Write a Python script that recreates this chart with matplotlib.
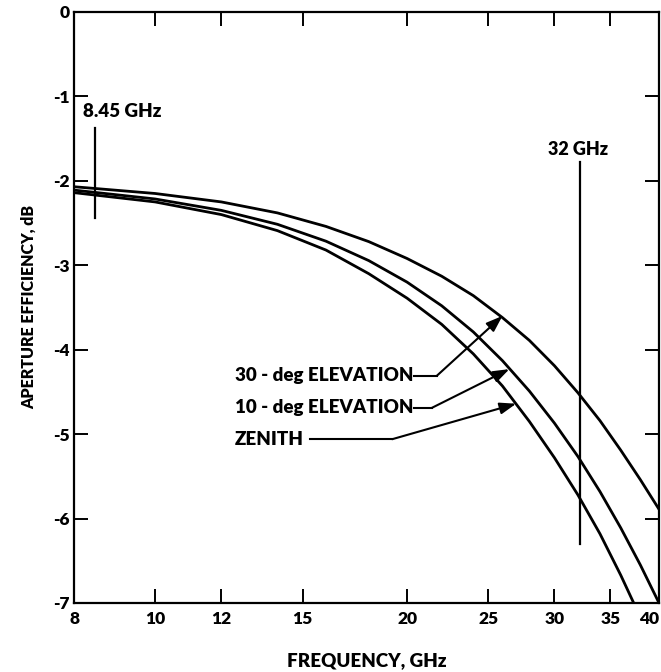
import matplotlib
matplotlib.use('Agg')

from matplotlib import pyplot as plt
from matplotlib import ticker

plt.rcParams['font.family'] = ['Lato', 'DejaVu Sans']
W = 'heavy'

# curves (frequency GHz, aperture efficiency dB)
freq30 = [8, 10, 12, 14, 16, 18, 20, 22, 24, 26, 28, 30, 32, 34, 36, 38, 40]
eff30 = [-2.07, -2.15, -2.25, -2.38, -2.54, -2.72, -2.92, -3.13, -3.36, -3.62,
	-3.89, -4.19, -4.51, -4.84, -5.19, -5.54, -5.89]

freq10 = [8, 10, 12, 14, 16, 18, 20, 22, 24, 26, 28, 30, 32, 34, 36, 38, 40]
eff10 = [-2.11, -2.215, -2.35, -2.515, -2.715, -2.945, -3.20, -3.48, -3.79, -4.13,
	-4.49, -4.87, -5.265, -5.68, -6.11, -6.55, -7.0]

freqZen = [8, 10, 12, 14, 16, 18, 20, 22, 24, 26, 28, 30, 32, 34, 36, 38]
effZen = [-2.14, -2.25, -2.40, -2.59, -2.82, -3.10, -3.39, -3.70, -4.05, -4.43,
	-4.85, -5.28, -5.72, -6.18, -6.67, -7.17]

xTicks = [8, 10, 12, 15, 20, 25, 30, 35, 40]
yTicks = [0, -1, -2, -3, -4, -5, -6, -7]

# callouts: label, label y, line start x, bend x, arrow target (x, y)
callouts = [
	('30 - deg ELEVATION', -4.31, 20.4, 21.7, 26.0, -3.60),
	('10 - deg ELEVATION', -4.69, 20.4, 21.4, 26.5, -4.23),
	('ZENITH', -5.06, 15.3, 19.2, 27.0, -4.64),
]
calloutX = 12.45

fig = plt.figure(figsize=(6.61, 6.72), dpi=100)
ax = fig.add_axes([0.112, 0.1027, 0.885, 0.8795])

lw = 2.0
ax.plot(freq30, eff30, color='black', lw=lw)
ax.plot(freq10, eff10, color='black', lw=lw)
ax.plot(freqZen, effZen, color='black', lw=lw)

ax.set_xscale('log')
ax.set_xlim(8, 40)
ax.set_ylim(-7, 0)
ax.xaxis.set_major_locator(ticker.FixedLocator(xTicks))
ax.xaxis.set_major_formatter(ticker.FixedFormatter([str(t) for t in xTicks]))
ax.xaxis.set_minor_locator(ticker.NullLocator())
ax.set_yticks(yTicks)
ax.set_yticklabels(['0'] + ['-%d' % -t for t in yTicks[1:]])

for s in ax.spines.values():
	s.set_linewidth(1.6)
ax.tick_params(direction='in', length=10, width=1.4, top=True, right=True,
	labelsize=12.5)
ax.tick_params(axis='x', pad=6)
ax.tick_params(axis='y', pad=3)
for lab in ax.get_xticklabels() + ax.get_yticklabels():
	lab.set_fontweight(W)
# last x label sits at the image edge, nudge it inwards
ax.get_xticklabels()[-1].set_horizontalalignment('right')

ax.set_xlabel('FREQUENCY, GHz', fontsize=13.5, fontweight=W, labelpad=18)
ax.set_ylabel('APERTURE EFFICIENCY, dB', fontsize=11.5, fontweight=W, labelpad=12)

# marker lines
ax.plot([8.47, 8.47], [-1.37, -2.44], color='black', lw=1.6)
ax.text(8.2, -1.18, '8.45 GHz', fontsize=13.5, fontweight=W, ha='left', va='center')
ax.plot([32.2, 32.2], [-1.78, -6.3], color='black', lw=1.6)
ax.text(32.0, -1.63, '32 GHz', fontsize=13, fontweight=W, ha='center', va='center')

for label, ty, lx, bx, tx2, ty2 in callouts:
	ax.text(calloutX, ty, label, fontsize=13.5, fontweight=W, ha='left', va='center')
	ax.plot([lx, bx], [ty, ty], color='black', lw=1.5)
	ax.annotate('', xy=(tx2, ty2), xytext=(bx, ty),
		arrowprops=dict(arrowstyle='-|>,head_length=0.7,head_width=0.25', color='black', lw=1.5,
			mutation_scale=14, shrinkA=0, shrinkB=0))

plt.savefig('out.png', dpi=100)
